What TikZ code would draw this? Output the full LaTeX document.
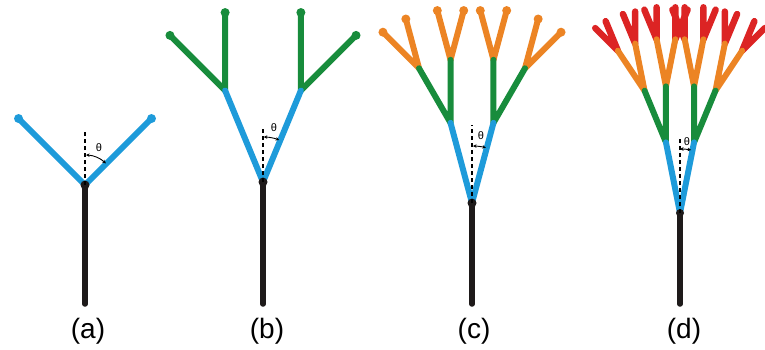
\documentclass[tikz,border=0pt]{standalone}
\usepackage{fontspec}
\setmainfont{Liberation Sans}
\usetikzlibrary{calc,arrows.meta}
\definecolor{cblue}{RGB}{30,155,218}
\definecolor{cgreen}{RGB}{24,140,60}
\definecolor{corange}{RGB}{236,132,36}
\definecolor{cred}{RGB}{220,36,36}
\definecolor{ctrunk}{RGB}{30,26,26}
\newcommand\mkkids[3]{%
  \pgfmathsetmacro\tmpL{\csname ang#1\endcsname+#2}%
  \pgfmathsetmacro\tmpR{\csname ang#1\endcsname-#2}%
  \expandafter\xdef\csname ang#1L\endcsname{\tmpL}%
  \expandafter\xdef\csname ang#1R\endcsname{\tmpR}%
  \coordinate (#1L) at ($(#1)+(\tmpL:#3pt)$);%
  \coordinate (#1R) at ($(#1)+(\tmpR:#3pt)$);%
}
\begin{document}
\begin{tikzpicture}[x=1pt,y=1pt,
  seg/.style={line cap=round,line width=6pt},
  trunkseg/.style={seg,ctrunk,line width=5.5pt},
  blueseg/.style={seg,cblue},
  greenseg/.style={seg,cgreen},
  orangeseg/.style={seg,corange},
  redseg/.style={seg,cred,line width=6.5pt},
  refline/.style={black,line width=1.1pt,dash pattern=on 4pt off 3pt},
  anglearc/.style={black,line width=0.9pt,{Stealth[length=3.5pt,width=3.5pt]}-{Stealth[length=3.5pt,width=3.5pt]}},
  thetalab/.style={font=\fontsize{11}{12}\selectfont,inner sep=0pt},
  panellab/.style={font=\fontsize{28}{30}\selectfont,inner sep=0pt},
]
\useasboundingbox (0,0) rectangle (765,-350);

% ---------- panel (a)
\coordinate (a0) at (85,-304);
\coordinate (a) at (85,-185);
\xdef\anga{90}
\mkkids{a}{45}{94}
\coordinate (aT) at (85,-132);
\draw[blueseg] (a) -- (aL) (a) -- (aR);
\fill[cblue] (aL) circle[radius=4.5pt] (aR) circle[radius=4.5pt];
\draw[trunkseg] (a0) -- (a);
\fill[ctrunk] (a) circle[radius=4.5pt];
\draw[refline] (a) -- (aT);
\draw[anglearc] ($(a)+(88:30pt)$) arc[start angle=88,end angle=46,radius=30pt];
\node[thetalab] (ath) at (99,-148) {θ};
\node[panellab] (alab) at (88,-331) {(a)};

% ---------- panel (b)
\coordinate (b0) at (263,-304);
\coordinate (b) at (263,-182);
\xdef\angb{90}
\mkkids{b}{22.5}{99}
\foreach \p in {bL,bR} {\mkkids{\p}{22.5}{78}}
\coordinate (bT) at (263,-127);
\foreach \p in {bL,bR} {
  \draw[greenseg] (\p) -- (\p L) (\p) -- (\p R);
  \fill[cgreen] (\p L) circle[radius=4.5pt] (\p R) circle[radius=4.5pt];
}
\draw[blueseg] (b) -- (bL) (b) -- (bR);
\draw[trunkseg] (b0) -- (b);
\fill[ctrunk] (b) circle[radius=4.5pt];
\draw[refline] (b) -- (bT);
\draw[anglearc] ($(b)+(89:45pt)$) arc[start angle=89,end angle=69,radius=45pt];
\node[thetalab] (bth) at (274,-128) {θ};
\node[panellab] (blab) at (267,-331) {(b)};

% ---------- panel (c)
\coordinate (c0) at (472,-304);
\coordinate (c) at (472,-203);
\xdef\angc{90}
\mkkids{c}{15}{83}
\foreach \p in {cL,cR} {\mkkids{\p}{15}{63}}
\foreach \p in {cLL,cLR,cRL,cRR} {\mkkids{\p}{15}{51}}
\coordinate (cT) at (472,-125);
\foreach \p in {cLL,cLR,cRL,cRR} {
  \draw[orangeseg] (\p) -- (\p L) (\p) -- (\p R);
  \fill[corange] (\p L) circle[radius=4.5pt] (\p R) circle[radius=4.5pt];
}
\foreach \p in {cL,cR} {\draw[greenseg] (\p) -- (\p L) (\p) -- (\p R);}
\draw[blueseg] (c) -- (cL) (c) -- (cR);
\draw[trunkseg] (c0) -- (c);
\fill[ctrunk] (c) circle[radius=4.5pt];
\draw[refline] (c) -- (cT);
\draw[anglearc] ($(c)+(89:57pt)$) arc[start angle=89,end angle=76,radius=57pt];
\node[thetalab] (cth) at (481,-136) {θ};
\node[panellab] (clab) at (474,-331) {(c)};

% ---------- panel (d)
\coordinate (d0) at (680,-304);
\coordinate (d) at (680,-213);
\xdef\angd{90}
\mkkids{d}{11.25}{72}
\foreach \p in {dL,dR} {\mkkids{\p}{11.25}{56}}
\foreach \p in {dLL,dLR,dRL,dRR} {\mkkids{\p}{11.25}{48}}
\foreach \p in {dLLL,dLLR,dLRL,dLRR,dRLL,dRLR,dRRL,dRRR} {\mkkids{\p}{11.25}{32}}
\coordinate (dT) at (680,-138);
\foreach \p in {dLLL,dLLR,dLRL,dLRR,dRLL,dRLR,dRRL,dRRR} {\draw[redseg] (\p) -- (\p L) (\p) -- (\p R);}
\foreach \p in {dLL,dLR,dRL,dRR} {\draw[orangeseg] (\p) -- (\p L) (\p) -- (\p R);}
\foreach \p in {dL,dR} {\draw[greenseg] (\p) -- (\p L) (\p) -- (\p R);}
\draw[blueseg] (d) -- (dL) (d) -- (dR);
\draw[trunkseg] (d0) -- (d);
\fill[ctrunk] (d) circle[radius=4pt];
\draw[refline] (d) -- (dT);
\draw[anglearc] ($(d)+(90:64pt)$) arc[start angle=90,end angle=80,radius=64pt];
\node[thetalab] (dth) at (687,-142) {θ};
\node[panellab] (dlab) at (684,-331) {(d)};
\end{tikzpicture}
\end{document}
